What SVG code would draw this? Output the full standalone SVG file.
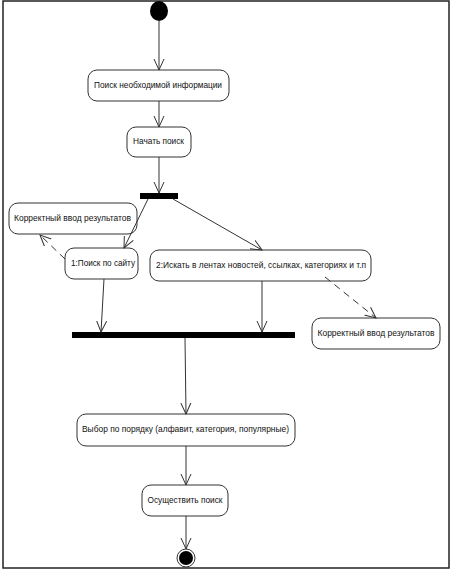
<svg xmlns="http://www.w3.org/2000/svg" width="452" height="570" viewBox="0 0 452 570">
<style>
.n rect{fill:#fff;stroke:#333;stroke-width:1}
.n text{font-family:"Liberation Sans",Arial,sans-serif;font-size:9px;fill:#111;text-anchor:middle;dominant-baseline:middle}
.c path{fill:none;stroke:#333;stroke-width:1}
.c .d{stroke-dasharray:7,5}
.bar{fill:#000}
</style>
<defs>
<marker id="a" viewBox="0 0 12 12" refX="11" refY="6" markerWidth="12" markerHeight="12" markerUnits="userSpaceOnUse" orient="auto">
<path d="M0,1 L11,6 L0,11" fill="none" stroke="#333" stroke-width="1"/>
</marker>
</defs>
<rect x="3" y="1" width="446" height="567" fill="none" stroke="#222" stroke-width="1.5"/>
<g id="start"><ellipse cx="159" cy="11" rx="9" ry="10" fill="#000"/></g>
<g id="n1" class="n"><rect x="88" y="70" width="141" height="31" rx="9"/><text x="158" y="86" textLength="128" lengthAdjust="spacingAndGlyphs">Поиск необходимой информации</text></g>
<g id="n2" class="n"><rect x="127" y="127" width="64" height="30" rx="9"/><text x="158.5" y="142" textLength="51" lengthAdjust="spacingAndGlyphs">Начать поиск</text></g>
<g id="fork"><rect class="bar" x="140" y="193" width="38" height="6"/></g>
<g id="ok1" class="n"><rect x="9" y="203" width="128" height="31" rx="9"/><text x="72.5" y="219" textLength="117" lengthAdjust="spacingAndGlyphs">Корректный ввод результатов</text></g>
<g id="s1" class="n"><rect x="65" y="248" width="73" height="31" rx="9"/><text x="103" y="264" textLength="64" lengthAdjust="spacingAndGlyphs">1:Поиск по сайту</text></g>
<g id="s2" class="n"><rect x="150" y="250" width="221" height="31" rx="9"/><text x="261" y="266" textLength="210" lengthAdjust="spacingAndGlyphs">2:Искать в лентах новостей, ссылках, категориях и т.п</text></g>
<g id="ok2" class="n"><rect x="312" y="318" width="128" height="31" rx="9"/><text x="376" y="334" textLength="117" lengthAdjust="spacingAndGlyphs">Корректный ввод результатов</text></g>
<g id="join"><rect class="bar" x="72" y="332" width="223" height="6"/></g>
<g id="n3" class="n"><rect x="77" y="414" width="218" height="32" rx="9"/><text x="185.5" y="430" textLength="207" lengthAdjust="spacingAndGlyphs">Выбор по порядку (алфавит, категория, популярные)</text></g>
<g id="n4" class="n"><rect x="142" y="485" width="86" height="31" rx="9"/><text x="185" y="501" textLength="75" lengthAdjust="spacingAndGlyphs">Осуществить поиск</text></g>
<g id="end"><circle cx="186" cy="558" r="9" fill="#fff" stroke="#333" stroke-width="1"/><circle cx="186" cy="558" r="7" fill="#000"/></g>
<g id="connectors" class="c">
<path d="M159,21 L159,70" marker-end="url(#a)"/>
<path d="M159,101 L159,127" marker-end="url(#a)"/>
<path d="M159,157 L159,193" marker-end="url(#a)"/>
<path d="M148,199 L124,248" marker-end="url(#a)"/>
<path d="M173,199 L262,250" marker-end="url(#a)"/>
<path class="d" d="M65,259 L40,235" marker-end="url(#a)"/>
<path class="d" d="M325,277 L376,318" marker-end="url(#a)"/>
<path d="M104,279 L101,332" marker-end="url(#a)"/>
<path d="M262,281 L262,332" marker-end="url(#a)"/>
<path d="M185,338 L186,414" marker-end="url(#a)"/>
<path d="M186,446 L186,485" marker-end="url(#a)"/>
<path d="M186,516 L186,549" marker-end="url(#a)"/>
</g>
</svg>
